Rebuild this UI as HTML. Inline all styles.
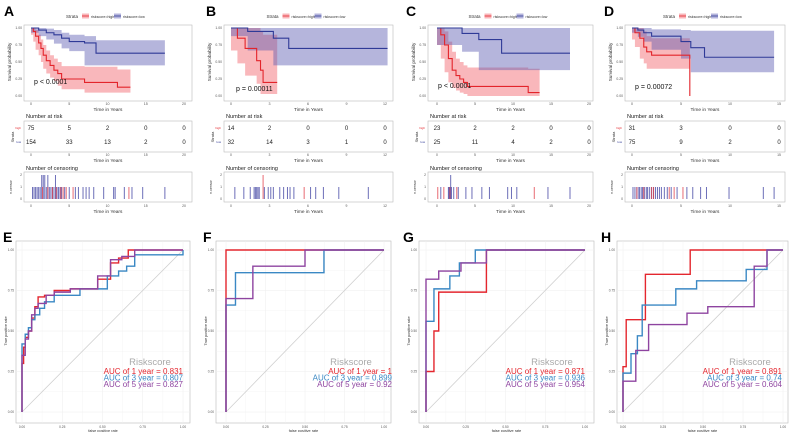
<!DOCTYPE html>
<html><head><meta charset="utf-8">
<style>
html,body{margin:0;padding:0;background:#fff;}
svg{display:block;font-family:"Liberation Sans",sans-serif;}
</style></head>
<body>
<svg id="fig" width="792" height="432" viewBox="0 0 792 432" xmlns="http://www.w3.org/2000/svg"></svg>
<script>
// ---------- Kaplan-Meier data ----------
const kmA_highT=[0,0.3,0.6,1,1.3,1.6,2,2.5,3,3.5,4,7,11.3,13];
const kmA_highS=[1,0.95,0.88,0.78,0.7,0.6,0.52,0.45,0.38,0.33,0.25,0.2,0.13,0.13];
const kmA_highU=[1,1,0.97,0.9,0.83,0.75,0.67,0.6,0.55,0.5,0.44,0.43,0.39,0.39];
const kmA_highL=[1,0.9,0.8,0.68,0.6,0.5,0.4,0.33,0.27,0.22,0.15,0.1,0.05,0.05];
const kmA_lowT=[0,1,2,3,4,5,7,8.5,17.5];
const kmA_lowS=[1,0.97,0.93,0.9,0.85,0.8,0.78,0.63,0.63];
const kmA_lowU=[1,1,0.99,0.97,0.93,0.9,0.88,0.82,0.82];
const kmA_lowL=[1,0.93,0.88,0.83,0.77,0.7,0.66,0.45,0.45];
const riskA_high=[75,5,2,0,0];
const riskA_low=[154,33,13,2,0];
const censA_high=[1.5,2.2,2.8,3.3,3.9,4.2,4.6,5.5,12.8];
const censA_low=[0.2,0.4,0.6,0.8,1,1.2,1.4,1.4,1.6,1.6,1.8,1.8,2,2.2,2.2,2.4,2.6,2.8,3,3.2,3.2,3.4,3.6,3.8,4,4.4,5,5.8,6.2,6.8,7.2,7.6,8.2,9.5,10.8,11,12.2,13.2,14.6,17.5];
const kmB_highT=[0,0.5,1.1,2.0,2.3,2.5,3.6];
const kmB_highS=[1,0.85,0.7,0.52,0.38,0.2,0.2];
const kmB_highU=[1,1,1,1,0.95,0.9,0.9];
const kmB_highL=[1,0.67,0.48,0.3,0.18,0.03,0.03];
const kmB_lowT=[0,1.3,3.3,4.5,12.2];
const kmB_lowS=[1,0.95,0.85,0.7,0.7];
const kmB_lowU=[1,1,1,1,1];
const kmB_lowL=[1,0.88,0.67,0.45,0.45];
const riskB_high=[14,2,0,0,0];
const riskB_low=[32,14,3,1,0];
const censB_high=[2.5,2.5,5.7];
const censB_low=[0.3,1.0,1.5,1.8,1.9,2.0,2.1,2.2,2.6,2.9,3.1,3.3,3.8,4.1,4.4,4.6,4.9,6.2,6.6,7.2,8.4,10.7];
const kmC_highT=[0,0.5,1,1.5,2,2.5,3,3.5,4,12,13.5];
const kmC_highS=[1,0.9,0.75,0.55,0.38,0.3,0.25,0.2,0.14,0.05,0.05];
const kmC_highU=[1,1,0.95,0.8,0.65,0.55,0.5,0.45,0.42,0.4,0.4];
const kmC_highL=[1,0.75,0.55,0.35,0.2,0.12,0.08,0.05,0.03,0,0];
const kmC_lowT=[0,3.3,5.5,8.5,17.5];
const kmC_lowS=[1,0.92,0.83,0.63,0.63];
const kmC_lowU=[1,1,1,1,1];
const kmC_lowL=[1,0.75,0.65,0.38,0.38];
const riskC_high=[23,2,2,0,0];
const riskC_low=[25,11,4,2,0];
const censC_high=[0.1,0.9,1.7,2.6,12.8];
const censC_low=[0.5,1.5,1.6,1.7,1.8,1.8,1.9,2.2,2.8,3.8,4.6,5.9,6.9,9.3,9.8,10.5,14.6,17.5];
const kmD_highT=[0,0.3,0.8,1.2,1.5,2,5.9];
const kmD_highS=[1,0.93,0.85,0.72,0.65,0.6,0];
const kmD_highU=[1,1,1,0.95,0.88,0.85,0.85];
const kmD_highL=[1,0.83,0.72,0.55,0.48,0.4,0.4];
const kmD_lowT=[0,0.6,1.2,2,5,6,7.4,14.5];
const kmD_lowS=[1,0.97,0.93,0.88,0.8,0.71,0.57,0.57];
const kmD_lowU=[1,1,1,0.98,0.97,0.96,0.96,0.96];
const kmD_lowL=[1,0.93,0.87,0.8,0.68,0.55,0.35,0.35];
const riskD_high=[31,3,0,0];
const riskD_low=[75,9,2,0];
const censD_high=[0.5,1.2,2.0,2.2,3.8,4.3,5.2];
const censD_low=[0.1,0.3,0.5,0.7,0.8,1.0,1.1,1.3,1.5,1.6,1.8,2.0,2.2,2.4,2.6,2.8,3,3.3,3.6,4.0,4.6,5.6,6.2,7.0,7.6,9.9,13.4,14.5];

// ---------- ROC data ----------
const rocE_red_fpr=[0,0,0.01,0.02,0.04,0.06,0.08,0.1,0.14,0.2,0.3,0.47,0.55,0.6,0.66,1];
const rocE_red_tpr=[0,0.3,0.4,0.46,0.5,0.58,0.65,0.71,0.72,0.75,0.76,0.82,0.92,0.95,1,1];
const rocE_blue_fpr=[0,0,0.02,0.04,0.06,0.08,0.11,0.14,0.2,0.36,0.53,0.6,0.65,0.7,1];
const rocE_blue_tpr=[0,0.42,0.48,0.52,0.57,0.6,0.64,0.68,0.72,0.76,0.84,0.87,0.9,0.97,1];
const rocE_purple_fpr=[0,0,0.02,0.04,0.06,0.08,0.1,0.15,0.2,0.3,0.47,0.55,0.62,0.7,1];
const rocE_purple_tpr=[0,0.35,0.45,0.5,0.6,0.64,0.67,0.72,0.74,0.76,0.84,0.94,0.96,1,1];
const rocF_red_fpr=[0,0,1];
const rocF_red_tpr=[0,1,1];
const rocF_blue_fpr=[0,0,0.06,0.62,1];
const rocF_blue_tpr=[0,0.66,0.86,1,1];
const rocF_purple_fpr=[0,0,0.17,0.5,1];
const rocF_purple_tpr=[0,0.7,0.9,1,1];
const rocG_red_fpr=[0,0,0.05,0.08,0.38,1];
const rocG_red_tpr=[0,0.25,0.5,0.74,1,1];
const rocG_blue_fpr=[0,0,0.05,0.15,0.21,0.31,1];
const rocG_blue_tpr=[0,0.56,0.76,0.84,0.92,1,1];
const rocG_purple_fpr=[0,0,0.08,0.22,0.38,1];
const rocG_purple_tpr=[0,0.82,0.87,0.92,1,1];
const rocH_red_fpr=[0,0,0.02,0.14,0.42,1];
const rocH_red_tpr=[0,0.28,0.57,0.85,1,1];
const rocH_blue_fpr=[0,0,0.05,0.09,0.12,0.33,0.46,0.77,0.9,1];
const rocH_blue_tpr=[0,0.24,0.36,0.47,0.66,0.76,0.81,0.88,1,1];
const rocH_purple_fpr=[0,0,0.08,0.16,0.4,0.53,0.82,0.9,1];
const rocH_purple_tpr=[0,0.19,0.38,0.54,0.61,0.65,0.9,1,1];
const aucE=["0.831","0.807","0.827"];
const aucF=["1","0.899","0.92"];
const aucG=["0.871","0.936","0.954"];
const aucH=["0.891","0.74","0.604"];
const rocTicks=["0.00","0.25","0.50","0.75","1.00"];

const NS="http://www.w3.org/2000/svg";
const svg=document.getElementById('fig');
function mk(tag,attrs,parent){const e=document.createElementNS(NS,tag);for(const k in attrs)e.setAttribute(k,attrs[k]);(parent||svg).appendChild(e);return e;}
function txt(x,y,s,size,fill,anchor,parent,extra){const t=mk('text',Object.assign({x:x,y:y,'font-size':size,fill:fill||'#222','text-anchor':anchor||'start'},extra||{}),parent);t.textContent=s;return t;}

const RED='#e3242b',BLUE='#2f3a97',REDF='rgba(242,96,104,0.45)',BLUEF='rgba(90,90,178,0.45)';

function stepPath(T,S,sx,sy){let d='M'+sx(T[0])+','+sy(S[0]);for(let i=1;i<T.length;i++){d+=' H'+sx(T[i])+' V'+sy(S[i]);}return d;}
function bandPath(T,U,L,sx,sy){let d='M'+sx(T[0])+','+sy(U[0]);for(let i=1;i<T.length;i++){d+=' H'+sx(T[i])+' V'+sy(U[i]);}
 d+=' V'+sy(L[L.length-1]);for(let i=T.length-1;i>0;i--){d+=' V'+sy(L[i])+' H'+sx(T[i-1]);}d+=' V'+sy(L[0])+' Z';return d;}

function km(cfg){
 const g=mk('g',{});
 
 
 const sx=t=>cfg.x0+(cfg.x1-cfg.x0)*t/cfg.tmax, sy=s=>96-68*s;
 const lab=txt(cfg.labX,16,cfg.label,14,'#000','start',g,{'font-weight':'bold'});
 
 const cx=(cfg.bl+cfg.br)/2;
 const lg=mk('g',{},g);
 txt(cx-42,18,'Strata',4.5,'#333','start',lg);
 mk('rect',{x:cx-26,y:13.5,width:7,height:5,fill:REDF},lg);mk('line',{x1:cx-26,x2:cx-19,y1:16,y2:16,stroke:RED,'stroke-width':0.8},lg);
 txt(cx-17,18,'riskscore=high',3.6,'#333','start',lg);
 mk('rect',{x:cx+6,y:13.5,width:7,height:5,fill:BLUEF},lg);mk('line',{x1:cx+6,x2:cx+13,y1:16,y2:16,stroke:BLUE,'stroke-width':0.8},lg);
 txt(cx+15,18,'riskscore=low',3.6,'#333','start',lg);
 const pb=mk('rect',{x:cfg.bl,y:25,width:cfg.br-cfg.bl,height:76,fill:'#fff',stroke:'#bbb','stroke-width':0.6},g);
 
 const ys=["0.00","0.25","0.50","0.75","1.00"];
 ys.forEach((s,i)=>{txt(cfg.bl-2,sy(i/4)+1.2,s,3.4,'#555','end',g);});
 const yt=txt(cfg.bl-13,62,'Survival probability',4.6,'#333','middle',g,{transform:'rotate(-90 '+(cfg.bl-13)+' 62)'});
 
 cfg.ticks.forEach(t=>{txt(sx(t),105,String(t),3.6,'#555','middle',g);});
 txt((cfg.bl+cfg.br)/2,111,'Time in Years',4.8,'#333','middle',g);
 const bh=mk('path',{d:bandPath(cfg.hT,cfg.hU,cfg.hL,sx,sy),fill:REDF,stroke:'none'},g);
 
 const bl=mk('path',{d:bandPath(cfg.lT,cfg.lU,cfg.lL,sx,sy),fill:BLUEF,stroke:'none'},g);
 
 const ch=mk('path',{d:stepPath(cfg.hT,cfg.hS,sx,sy),fill:'none',stroke:RED,'stroke-width':1.1},g);
 
 const cl=mk('path',{d:stepPath(cfg.lT,cfg.lS,sx,sy),fill:'none',stroke:BLUE,'stroke-width':1.1},g);
 
 const pv=txt(cfg.px,cfg.py,cfg.p,7,'#111','start',g);
 
 txt(cfg.bl+2,118,'Number at risk',5.6,'#222','start',g);
 const rt=mk('rect',{x:cfg.bl,y:121,width:cfg.br-cfg.bl,height:31,fill:'#fff',stroke:'#bbb','stroke-width':0.6},g);
 
 txt(cfg.bl-3,129,'high',3,RED,'end',g);txt(cfg.bl-3,143,'low',3,BLUE,'end',g);
 txt(cfg.bl-10,137,'Strata',4,'#333','middle',g,{transform:'rotate(-90 '+(cfg.bl-10)+' 137)'});
 cfg.rh.forEach((v,i)=>{txt(sx(cfg.ticks[i]),130,String(v),6,'#222','middle',g);});
 cfg.rl.forEach((v,i)=>{txt(sx(cfg.ticks[i]),144,String(v),6,'#222','middle',g);});
 cfg.ticks.forEach(t=>{txt(sx(t),156,String(t),3.4,'#555','middle',g);});
 txt((cfg.bl+cfg.br)/2,162,'Time in Years',4.8,'#333','middle',g);
 txt(cfg.bl+2,170,'Number of censoring',5.6,'#222','start',g);
 const cb=mk('rect',{x:cfg.bl,y:172,width:cfg.br-cfg.bl,height:30,fill:'#fff',stroke:'#bbb','stroke-width':0.6},g);
 
 const cy=n=>199-12*n;
 ['0','1','2'].forEach((s,i)=>txt(cfg.bl-2,cy(i)+1,s,3.4,'#555','end',g));
 txt(cfg.bl-12,187,'n.censor',3.6,'#333','middle',g,{transform:'rotate(-90 '+(cfg.bl-12)+' 187)'});
 function bars(arr,col,nm){const cnt={};arr.forEach(t=>{cnt[t]=(cnt[t]||0)+1;});
  for(const k in cnt){const b=mk('line',{x1:sx(+k),x2:sx(+k),y1:cy(0),y2:cy(cnt[k]),stroke:col,'stroke-width':1,'stroke-opacity':0.75},g);
   }}
 bars(cfg.cl,'#3b3ea0','censor-bar-low');bars(cfg.ch,'#e03a44','censor-bar-high');
 cfg.ticks.forEach(t=>{txt(sx(t),207,String(t),3.4,'#555','middle',g);});
 txt((cfg.bl+cfg.br)/2,213,'Time in Years',4.8,'#333','middle',g);
}

km({label:'A',labX:4,bl:24,br:192,x0:31,x1:184,tmax:20,ticks:[0,5,10,15,20],hT:kmA_highT,hS:kmA_highS,hU:kmA_highU,hL:kmA_highL,lT:kmA_lowT,lS:kmA_lowS,lU:kmA_lowU,lL:kmA_lowL,rh:riskA_high,rl:riskA_low,ch:censA_high,cl:censA_low,p:'p < 0.0001',px:34,py:84});
km({label:'B',labX:206,bl:224,br:393,x0:231,x1:385,tmax:12,ticks:[0,3,6,9,12],hT:kmB_highT,hS:kmB_highS,hU:kmB_highU,hL:kmB_highL,lT:kmB_lowT,lS:kmB_lowS,lU:kmB_lowU,lL:kmB_lowL,rh:riskB_high,rl:riskB_low,ch:censB_high,cl:censB_low,p:'p = 0.00011',px:236,py:91});
km({label:'C',labX:406,bl:428,br:593,x0:437,x1:589,tmax:20,ticks:[0,5,10,15,20],hT:kmC_highT,hS:kmC_highS,hU:kmC_highU,hL:kmC_highL,lT:kmC_lowT,lS:kmC_lowS,lU:kmC_lowU,lL:kmC_lowL,rh:riskC_high,rl:riskC_low,ch:censC_high,cl:censC_low,p:'p < 0.0001',px:438,py:88});
km({label:'D',labX:604,bl:625,br:785,x0:632,x1:779,tmax:15,ticks:[0,5,10,15],hT:kmD_highT,hS:kmD_highS,hU:kmD_highU,hL:kmD_highL,lT:kmD_lowT,lS:kmD_lowS,lU:kmD_lowU,lL:kmD_lowL,rh:riskD_high,rl:riskD_low,ch:censD_high,cl:censD_low,p:'p = 0.00072',px:635,py:89});

function roc(cfg){
 const g=mk('g',{});
 
 
 const sx=v=>cfg.x0+(cfg.x1-cfg.x0)*v, sy=v=>412-162*v;
 const lab=txt(cfg.labX,242,cfg.label,14,'#000','start',g,{'font-weight':'bold'});
 
 const pb=mk('rect',{x:cfg.bl,y:241,width:cfg.br-cfg.bl,height:182,fill:'#fff',stroke:'#bbb','stroke-width':0.6},g);
 
 for(let i=0;i<=8;i++){const v=i/8;
  mk('line',{x1:sx(v),x2:sx(v),y1:241,y2:423,stroke:'#eee','stroke-width':i%2?0.3:0.5},g);
  mk('line',{x1:cfg.bl,x2:cfg.br,y1:sy(v),y2:sy(v),stroke:'#eee','stroke-width':i%2?0.3:0.5},g);}
 rocTicks.forEach((s,i)=>{txt(cfg.bl-2,sy(i/4)+1,s,3.2,'#555','end',g);txt(sx(i/4),428,s,3.2,'#555','middle',g);});
 txt(cfg.bl-9,331,'True positive rate',3.8,'#333','middle',g,{transform:'rotate(-90 '+(cfg.bl-9)+' 331)'});
 txt((cfg.bl+cfg.br)/2,432,'false positive rate',3.8,'#333','middle',g);
 const dg=mk('line',{x1:sx(0),y1:sy(0),x2:sx(1),y2:sy(1),stroke:'#d0d0d0','stroke-width':0.8},g);
 
 const cols=['#e4262e','#3a88c4','#8e44a0'];const names=['roc-curve-1-year','roc-curve-3-year','roc-curve-5-year'];
 cfg.curves.forEach((c,k)=>{const F=c[0],T=c[1];let d='M'+sx(F[0])+','+sy(T[0]);
  for(let i=1;i<F.length;i++){d+=' H'+sx(F[i])+' V'+sy(T[i]);}
  const p=mk('path',{d:d,fill:'none',stroke:cols[k],'stroke-width':1.4},g);
  });
 const lg=mk('g',{},g);
 txt(cfg.x1-33,365,'Riskscore',9.5,'#aaa','middle',lg);
 [1,3,5].forEach((y,k)=>{txt(cfg.x1+cfg.dx,374+6.5*k,'AUC of '+y+' year =  '+cfg.auc[k],8,cols[k],'end',lg);});
}
roc({label:'E',labX:3,bl:16,br:190,x0:22,x1:183,dx:0,auc:aucE,curves:[[rocE_red_fpr,rocE_red_tpr],[rocE_blue_fpr,rocE_blue_tpr],[rocE_purple_fpr,rocE_purple_tpr]]});
roc({label:'F',labX:203,bl:216,br:391,x0:226,x1:384,dx:8,auc:aucF,curves:[[rocF_red_fpr,rocF_red_tpr],[rocF_blue_fpr,rocF_blue_tpr],[rocF_purple_fpr,rocF_purple_tpr]]});
roc({label:'G',labX:403,bl:419,br:594,x0:426,x1:585,dx:0,auc:aucG,curves:[[rocG_red_fpr,rocG_red_tpr],[rocG_blue_fpr,rocG_blue_tpr],[rocG_purple_fpr,rocG_purple_tpr]]});
roc({label:'H',labX:601,bl:617,br:788,x0:623,x1:783,dx:-1,auc:aucH,curves:[[rocH_red_fpr,rocH_red_tpr],[rocH_blue_fpr,rocH_blue_tpr],[rocH_purple_fpr,rocH_purple_tpr]]});
</script>
</body></html>
